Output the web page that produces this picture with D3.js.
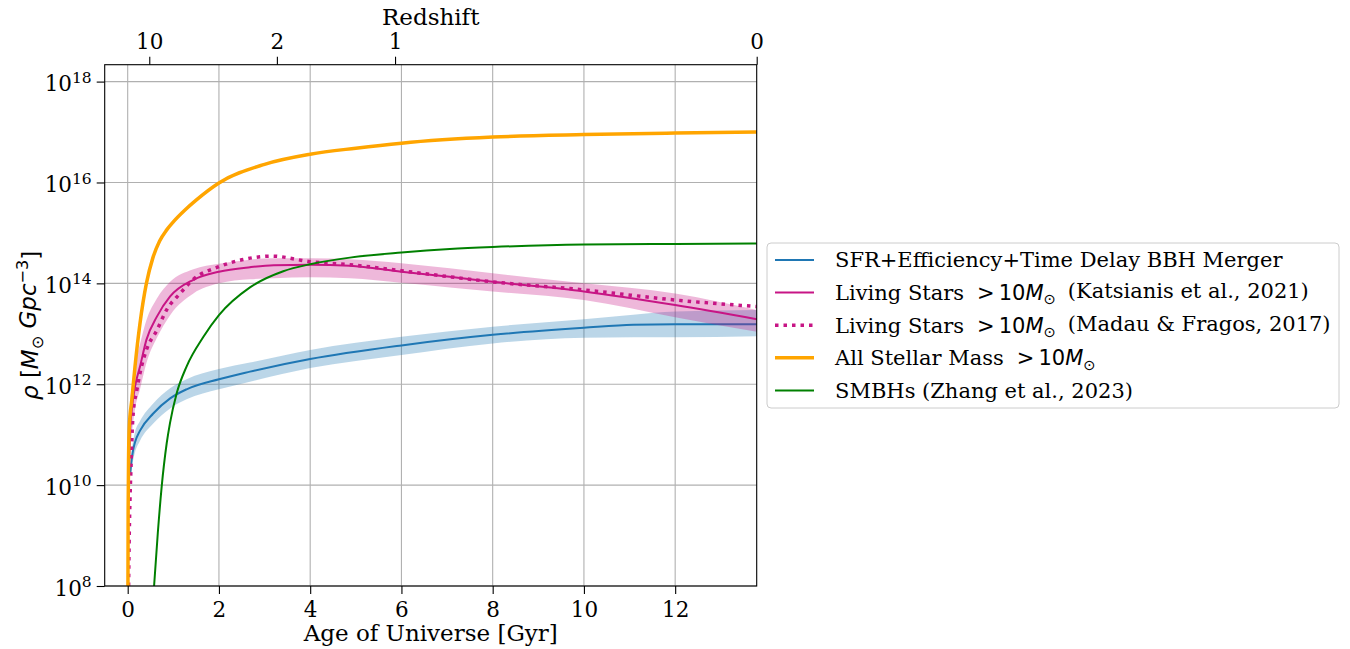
<!DOCTYPE html>
<html>
<head>
<meta charset="utf-8">
<script src="https://cdn.jsdelivr.net/npm/d3@7"></script>
<style>
body { margin: 0; background: #fff; }
text { font-family: "DejaVu Serif", serif; fill: #000; }
.math { font-family: "DejaVu Sans", sans-serif; }
</style>
</head>
<body>
<div id="chart"></div>
<script>
// ---- data (age in Gyr, log10 of density in Msun / Gpc^3) ----
var sfrAge   = [0.055, 0.07, 0.12, 0.16, 0.27, 0.56, 0.93, 1.29, 2.0, 2.68, 4.0, 6.0, 8.0, 10.0, 11.08, 12.0, 13.79];
var sfrMid   = [10.2, 10.37, 10.7, 10.85, 11.08, 11.42, 11.72, 11.9, 12.1, 12.25, 12.5, 12.77, 12.98, 13.12, 13.18, 13.19, 13.19];
var sfrHigh  = [10.25, 10.5, 10.88, 11.05, 11.27, 11.62, 11.92, 12.1, 12.3, 12.43, 12.68, 12.94, 13.14, 13.29, 13.38, 13.44, 13.47];
var sfrLow   = [10.15, 10.25, 10.5, 10.65, 10.88, 11.22, 11.52, 11.7, 11.9, 12.05, 12.32, 12.58, 12.81, 12.92, 12.93, 12.93, 12.95];

var katAge   = [0.02, 0.05, 0.09, 0.16, 0.27, 0.41, 0.64, 0.93, 1.44, 2.0, 2.68, 3.2, 4.0, 4.87, 6.0, 7.06, 8.0, 10.0, 12.0, 13.79];
var katMid   = [10.0, 11.03, 11.49, 11.95, 12.35, 12.88, 13.34, 13.74, 14.07, 14.23, 14.32, 14.36, 14.37, 14.35, 14.23, 14.13, 14.03, 13.84, 13.57, 13.29];
var katHigh  = [10.5, 11.5, 11.95, 12.4, 12.8, 13.27, 13.7, 14.03, 14.28, 14.39, 14.47, 14.5, 14.5, 14.48, 14.4, 14.3, 14.2, 14.0, 13.8, 13.47];
var katLow   = [9.5, 10.55, 11.0, 11.5, 11.9, 12.42, 12.92, 13.37, 13.8, 14.0, 14.08, 14.1, 14.12, 14.1, 14.01, 13.92, 13.84, 13.67, 13.33, 13.04];

var madAge   = [0.02, 0.035, 0.05, 0.073, 0.1, 0.123, 0.2, 0.27, 0.41, 0.64, 0.85, 1.15, 1.44, 2.0, 2.57, 3.16, 4.0, 4.87, 6.0, 7.06, 8.0, 10.0, 12.0, 13.79];
var madLog   = [8.0, 9.05, 9.7, 10.37, 11.1, 11.45, 11.88, 12.22, 12.68, 13.07, 13.47, 13.8, 14.08, 14.33, 14.48, 14.54, 14.43, 14.37, 14.25, 14.13, 14.03, 13.87, 13.67, 13.54];

var starAge  = [0.003, 0.01, 0.02, 0.035, 0.09, 0.16, 0.27, 0.41, 0.55, 0.7, 0.855, 1.0, 1.25, 1.5, 2.0, 3.0, 4.0, 5.0, 6.0, 8.0, 10.0, 12.0, 13.79];
var starLog  = [7.0, 9.5, 10.6, 11.16, 11.69, 12.35, 13.21, 14.0, 14.5, 14.84, 15.06, 15.22, 15.45, 15.65, 15.99, 16.36, 16.56, 16.68, 16.78, 16.9, 16.95, 16.98, 17.0];

var bhAge    = [0.55, 0.58, 0.66, 0.745, 0.855, 0.927, 1.074, 1.29, 1.66, 2.0, 2.68, 3.41, 4.0, 4.87, 6.0, 7.06, 8.0, 10.0, 12.0, 13.79];
var bhLog    = [7.6, 8.02, 9.05, 9.97, 10.83, 11.23, 11.82, 12.35, 12.94, 13.37, 13.92, 14.24, 14.38, 14.51, 14.61, 14.68, 14.72, 14.77, 14.78, 14.79];

var ageTicks       = [0, 2, 4, 6, 8, 10, 12];
var rhoTicks       = [8, 10, 12, 14, 16, 18];
var redshiftAges   = [0.473, 3.27, 5.86, 13.787];
var redshiftLabels = ["10", "2", "1", "0"];

var legendNames = [
    ["SFR+Efficiency+Time Delay BBH Merger"],
    ["Living Stars", "(Katsianis et al., 2021)"],
    ["Living Stars", "(Madau & Fragos, 2017)"],
    ["All Stellar Mass", ""],
    ["SMBHs (Zhang et al., 2023)"]
];

// ---- layout ----
var width = 1350, height = 649;
var plot = {left: 104.7, right: 756.7, top: 64.7, bottom: 586};

var blue = "#1f77b4", pink = "#c71585", orange = "#ffa500", green = "#008000";

var x = d3.scaleLinear().domain([-0.504, 13.787]).range([plot.left, plot.right]);
var y = d3.scaleLog().domain([1e8, Math.pow(10, 18.335)]).range([plot.bottom, plot.top]);

function rows(ages, vals) {
    return ages.map(function (a, i) { return {t: a, v: Math.pow(10, vals[i])}; });
}
function bandRows(ages, lo, hi) {
    return ages.map(function (a, i) { return {t: a, lo: Math.pow(10, lo[i]), hi: Math.pow(10, hi[i])}; });
}

var svg = d3.select("#chart").append("svg")
    .attr("width", width)
    .attr("height", height);

svg.append("defs").append("clipPath")
    .attr("id", "clip")
  .append("rect")
    .attr("x", plot.left)
    .attr("y", plot.top)
    .attr("width", plot.right - plot.left)
    .attr("height", plot.bottom - plot.top);

// grid
var grid = svg.append("g").attr("stroke", "#b0b0b0").attr("stroke-width", 1.1);
grid.selectAll(".gx").data(ageTicks).enter().append("line")
    .attr("x1", function (d) { return x(d); })
    .attr("x2", function (d) { return x(d); })
    .attr("y1", plot.top).attr("y2", plot.bottom);
grid.selectAll(".gy").data(rhoTicks).enter().append("line")
    .attr("y1", function (d) { return y(Math.pow(10, d)); })
    .attr("y2", function (d) { return y(Math.pow(10, d)); })
    .attr("x1", plot.left).attr("x2", plot.right);

var line = d3.line()
    .x(function (d) { return x(d.t); })
    .y(function (d) { return y(d.v); })
    .curve(d3.curveMonotoneX);
var area = d3.area()
    .x(function (d) { return x(d.t); })
    .y0(function (d) { return y(d.lo); })
    .y1(function (d) { return y(d.hi); })
    .curve(d3.curveMonotoneX);

var g = svg.append("g").attr("clip-path", "url(#clip)");

g.append("path").datum(bandRows(sfrAge, sfrLow, sfrHigh))
    .attr("d", area).attr("fill", blue).attr("fill-opacity", 0.3);
g.append("path").datum(rows(sfrAge, sfrMid))
    .attr("d", line).attr("fill", "none").attr("stroke", blue).attr("stroke-width", 2);

g.append("path").datum(bandRows(katAge, katLow, katHigh))
    .attr("d", area).attr("fill", pink).attr("fill-opacity", 0.3);
g.append("path").datum(rows(katAge, katMid))
    .attr("d", line).attr("fill", "none").attr("stroke", pink).attr("stroke-width", 2);

g.append("path").datum(rows(madAge, madLog))
    .attr("d", line).attr("fill", "none").attr("stroke", pink).attr("stroke-width", 3.5)
    .attr("stroke-dasharray", "3.5,5");

g.append("path").datum(rows(starAge, starLog))
    .attr("d", line).attr("fill", "none").attr("stroke", orange).attr("stroke-width", 3.5);

g.append("path").datum(rows(bhAge, bhLog))
    .attr("d", line).attr("fill", "none").attr("stroke", green).attr("stroke-width", 2);

// axes
var tickFont = 21.5;

var xAxis = svg.append("g")
    .attr("transform", "translate(0," + plot.bottom + ")")
    .call(d3.axisBottom(x).tickValues(ageTicks).tickSize(8).tickPadding(8).tickSizeOuter(0));
var yAxis = svg.append("g")
    .attr("transform", "translate(" + plot.left + ",0)")
    .call(d3.axisLeft(y).tickValues(rhoTicks.map(function (d) { return Math.pow(10, d); }))
        .tickSize(8).tickPadding(5).tickSizeOuter(0).tickFormat(""));
var topAxis = svg.append("g")
    .attr("transform", "translate(0," + plot.top + ")")
    .call(d3.axisTop(x).tickValues(redshiftAges).tickSize(8).tickPadding(8).tickSizeOuter(0)
        .tickFormat(function (d, i) { return redshiftLabels[i]; }));

[xAxis, yAxis, topAxis].forEach(function (a) {
    a.select(".domain").remove();
    a.selectAll("line").attr("stroke", "#000").attr("stroke-width", 1.1);
    a.selectAll("text").attr("font-family", "DejaVu Serif").attr("font-size", tickFont).attr("fill", "#000");
});

yAxis.selectAll(".tick text")
    .attr("dy", "0.42em")
    .each(function (d) {
        var t = d3.select(this);
        t.append("tspan").text("10");
        t.append("tspan").attr("dy", "-0.55em").attr("font-size", "0.72em").text(Math.round(Math.log10(d)));
    });

// frame
svg.append("rect")
    .attr("x", plot.left).attr("y", plot.top)
    .attr("width", plot.right - plot.left).attr("height", plot.bottom - plot.top)
    .attr("fill", "none").attr("stroke", "#000").attr("stroke-width", 1.1);

// labels
svg.append("text")
    .attr("x", (plot.left + plot.right) / 2).attr("y", 641)
    .attr("text-anchor", "middle").attr("font-size", 23)
    .text("Age of Universe [Gyr]");
svg.append("text")
    .attr("x", (plot.left + plot.right) / 2).attr("y", 25)
    .attr("text-anchor", "middle").attr("font-size", 23)
    .text("Redshift");

var ylab = svg.append("text")
    .attr("class", "math")
    .attr("transform", "translate(38," + (plot.top + plot.bottom) / 2 + ") rotate(-90)")
    .attr("text-anchor", "middle").attr("font-size", 23);
ylab.append("tspan").attr("font-style", "italic").text("ρ");
ylab.append("tspan").text(" [");
ylab.append("tspan").attr("font-style", "italic").text("M");
ylab.append("tspan").attr("dy", "0.3em").attr("font-size", "0.7em").text("⊙");
ylab.append("tspan").attr("dy", "-0.3em").attr("font-style", "italic").text(" Gpc");
ylab.append("tspan").attr("dy", "-0.5em").attr("font-size", "0.7em").text("−3");
ylab.append("tspan").attr("dy", "0.5em").text("]");

// legend
var legend = svg.append("g").attr("transform", "translate(767,243)");
legend.append("rect")
    .attr("width", 572).attr("height", 165).attr("rx", 4)
    .attr("fill", "#fff").attr("fill-opacity", 0.8)
    .attr("stroke", "#cccccc").attr("stroke-width", 1);

var legendStyles = [
    {color: blue, w: 2, dash: null},
    {color: pink, w: 2, dash: null},
    {color: pink, w: 3.5, dash: "3.5,5"},
    {color: orange, w: 3.5, dash: null},
    {color: green, w: 2, dash: null}
];
var rowStep = 32.6;

legendNames.forEach(function (name, i) {
    var cy = 17 + i * rowStep;
    var st = legendStyles[i];
    legend.append("line")
        .attr("x1", 8).attr("x2", 47).attr("y1", cy).attr("y2", cy)
        .attr("stroke", st.color).attr("stroke-width", st.w)
        .attr("stroke-dasharray", st.dash);
    var t = legend.append("text")
        .attr("x", 68).attr("y", cy).attr("dy", "0.35em")
        .attr("font-size", 21);
    t.append("tspan").text(name[0]);
    if (name.length > 1) {
        t.append("tspan").attr("dx", 13).attr("font-family", "DejaVu Sans").text(">");
        t.append("tspan").attr("dx", 4).attr("font-family", "DejaVu Sans").text("10");
        t.append("tspan").attr("font-family", "DejaVu Sans").attr("font-style", "italic").text("M");
        t.append("tspan").attr("font-family", "DejaVu Sans").attr("font-size", "0.7em").attr("dy", "0.3em").text("⊙");
        t.append("tspan").attr("dx", name[1] ? 12 : 0).attr("dy", "-0.3em").text(name[1]);
    }
});
</script>
</body>
</html>
